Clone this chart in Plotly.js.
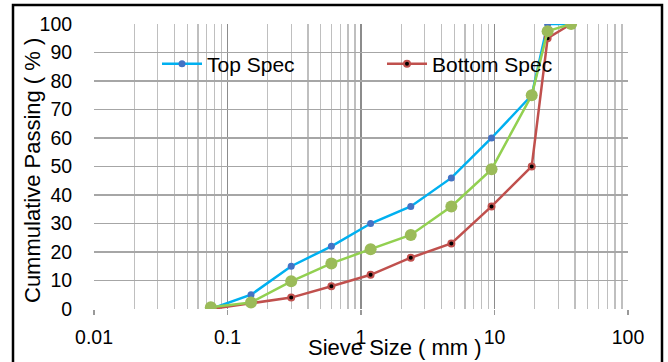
<!DOCTYPE html>
<html>
<head>
<meta charset="utf-8">
<script src="https://cdn.plot.ly/plotly-3.0.1.min.js"></script>
<style>html,body{margin:0;padding:0;background:#fff;}#chart{width:668px;height:362px;}</style>
</head>
<body>
<div id="chart"></div>
<script>
const sieveSizes = [0.075, 0.15, 0.3, 0.6, 1.18, 2.36, 4.75, 9.5, 19, 25, 37.5];
const topSpec    = [0, 5, 15, 22, 30, 36, 46, 60, 75, 100, 100];
const bottomSpec = [0, 2, 4, 8, 12, 18, 23, 36, 50, 95, 100];
const gradation  = [0.6, 2.3, 9.7, 16, 21, 26, 36, 49, 75, 97.5, 100];
const xTickVals = [0.01, 0.1, 1, 10, 100];
const xTickText = ['0.01', '0.1', '1', '10', '100'];
const yTickVals = [0, 10, 20, 30, 40, 50, 60, 70, 80, 90, 100];

const FONT = 'Liberation Sans, Arial, sans-serif';

const traces = [
  {
    x: sieveSizes, y: topSpec, name: 'Top Spec', type: 'scatter', mode: 'lines+markers',
    line: {color: '#00b0f0', width: 2.5},
    marker: {color: '#4472c4', size: 7}
  },
  {
    x: sieveSizes, y: bottomSpec, name: 'Bottom Spec', type: 'scatter', mode: 'lines+markers',
    line: {color: '#c0504d', width: 2.5},
    marker: {color: '#000000', size: 6, line: {color: '#c0504d', width: 2}}
  },
  {
    x: sieveSizes, y: gradation, name: 'Gradation', type: 'scatter', mode: 'lines+markers',
    showlegend: false,
    line: {color: '#92d050', width: 2.5},
    marker: {color: '#9bbb59', size: 12}
  }
];

const layout = {
  width: 668, height: 362,
  margin: {l: 94, r: 40, t: 24, b: 53},
  paper_bgcolor: '#ffffff', plot_bgcolor: '#ffffff',
  font: {family: FONT, color: '#000000', size: 19.5},
  showlegend: true,
  legend: {
    orientation: 'h', x: (157 - 94) / 534, y: (309 - 64) / 285, xanchor: 'left', yanchor: 'middle',
    bgcolor: 'rgba(0,0,0,0)', font: {family: FONT, size: 21, color: '#000'},
    itemwidth: 40, entrywidth: 170, traceorder: 'normal'
  },
  xaxis: {
    type: 'log', range: [-2, 2],
    tickvals: xTickVals, ticktext: xTickText,
    ticks: 'outside', ticklen: 5, tickcolor: '#999999', tickwidth: 1.3,
    ticklabelstandoff: 6,
    showgrid: true, gridcolor: '#8c8c8c', gridwidth: 1.3,
    minor: {dtick: 'D1', showgrid: true, gridcolor: '#bfbfbf', gridwidth: 1.3, ticks: ''},
    showline: false, zeroline: false,
    tickfont: {family: FONT, size: 19.5, color: '#000'}
  },
  yaxis: {
    range: [0, 100], tickvals: yTickVals,
    ticks: 'outside', ticklen: 17, tickcolor: 'rgba(0,0,0,0)',
    showgrid: true, gridcolor: '#a6a6a6', gridwidth: 1.3,
    showline: false, zeroline: false,
    tickfont: {family: FONT, size: 19.5, color: '#000'}
  },
  annotations: [
    {text: 'Sieve Size ( mm )', xref: 'paper', yref: 'paper', x: (395 - 94) / 534, y: (309 - 347) / 285,
     xanchor: 'center', yanchor: 'middle', showarrow: false, font: {family: FONT, size: 22, color: '#000'}},
    {text: 'Cummulative Passing ( % )', xref: 'paper', yref: 'paper', x: (32 - 94) / 534, y: (309 - 171) / 285,
     xanchor: 'center', yanchor: 'middle', textangle: -90, showarrow: false, font: {family: FONT, size: 22, color: '#000'}}
  ],
  shapes: [
    {type: 'rect', xref: 'paper', yref: 'paper', x0: (13 - 94) / 534, x1: (662 - 94) / 534,
     y0: (309 - 380) / 285, y1: (309 - 5) / 285, line: {color: '#000', width: 2.5}, fillcolor: 'rgba(0,0,0,0)', layer: 'above'}
  ]
};

Plotly.newPlot('chart', traces, layout, {displayModeBar: false, staticPlot: true});
</script>
</body>
</html>
